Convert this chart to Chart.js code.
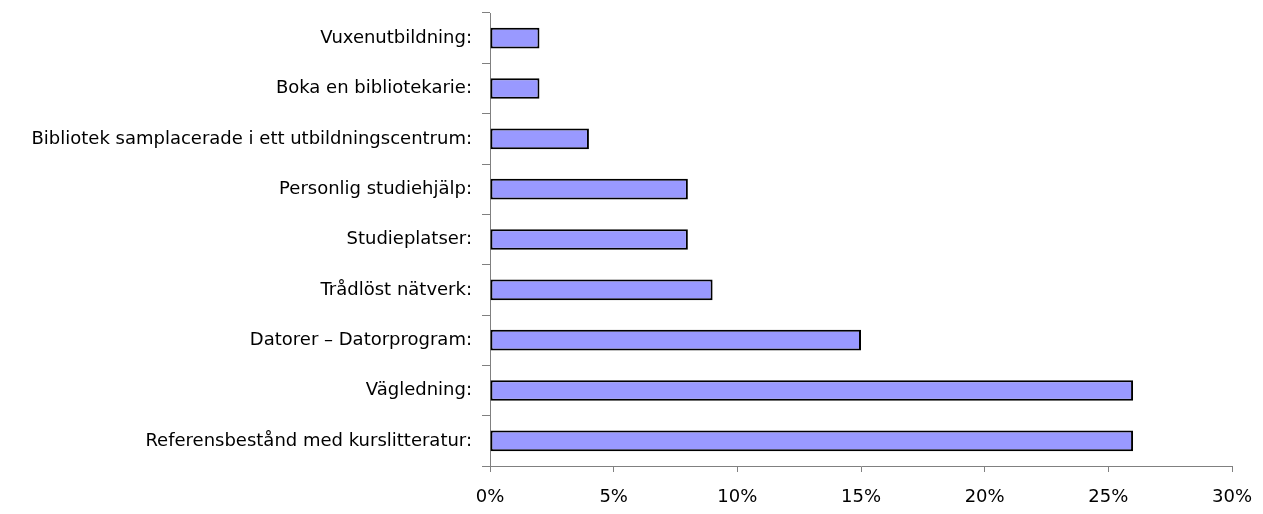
<!DOCTYPE html>
<html>
<head>
<meta charset="utf-8">
<script src="https://cdn.jsdelivr.net/npm/chart.js@4"></script>
<style>
  html, body { margin: 0; padding: 0; background: #fff; }
  #wrap { width: 1263px; height: 514px; }
</style>
</head>
<body>
<div id="wrap"><canvas id="myChart" width="1263" height="514"></canvas></div>
<script>
const categories = [
    'Vuxenutbildning:',
    'Boka en bibliotekarie:',
    'Bibliotek samplacerade i ett utbildningscentrum:',
    'Personlig studiehjälp:',
    'Studieplatser:',
    'Trådlöst nätverk:',
    'Datorer – Datorprogram:',
    'Vägledning:',
    'Referensbestånd med kurslitteratur:'
];
const shares = [2, 2, 4, 8, 8, 9, 15, 26, 26];
const xTicks = [0, 5, 10, 15, 20, 25, 30];

const labelFont = { family: '"DejaVu Sans", sans-serif', size: 18 };

const ctx = document.getElementById('myChart').getContext('2d');
const myChart = new Chart(ctx, {
    type: 'bar',
    data: {
        labels: categories,
        datasets: [{
            data: shares,
            backgroundColor: '#9999ff',
            borderColor: '#000000',
            borderWidth: 2,
            borderSkipped: false,
            barPercentage: 0.41,
            categoryPercentage: 1
        }]
    },
    options: {
        indexAxis: 'y',
        responsive: false,
        animation: false,
        layout: { padding: { top: 13, right: 31, left: 0, bottom: 0 } },
        plugins: {
            legend: { display: false },
            tooltip: { enabled: false }
        },
        scales: {
            x: {
                min: 0,
                max: 30,
                afterBuildTicks: axis => { axis.ticks = xTicks.map(v => ({ value: v })); },
                afterFit: axis => { axis.height = 48; axis.paddingRight = 0; },
                border: { color: '#808080', width: 1 },
                grid: { drawOnChartArea: false, tickLength: 6, color: '#808080' },
                ticks: {
                    color: '#000',
                    font: labelFont,
                    padding: 15,
                    callback: v => v + '%'
                }
            },
            y: {
                afterFit: axis => { axis.width = 490; axis.paddingTop = 0; axis.paddingBottom = 0; },
                border: { color: '#808080', width: 1 },
                grid: { drawOnChartArea: false, tickLength: 8, color: '#808080', offset: true },
                ticks: {
                    color: '#000',
                    font: labelFont,
                    padding: 10
                }
            }
        }
    }
});
</script>
</body>
</html>
